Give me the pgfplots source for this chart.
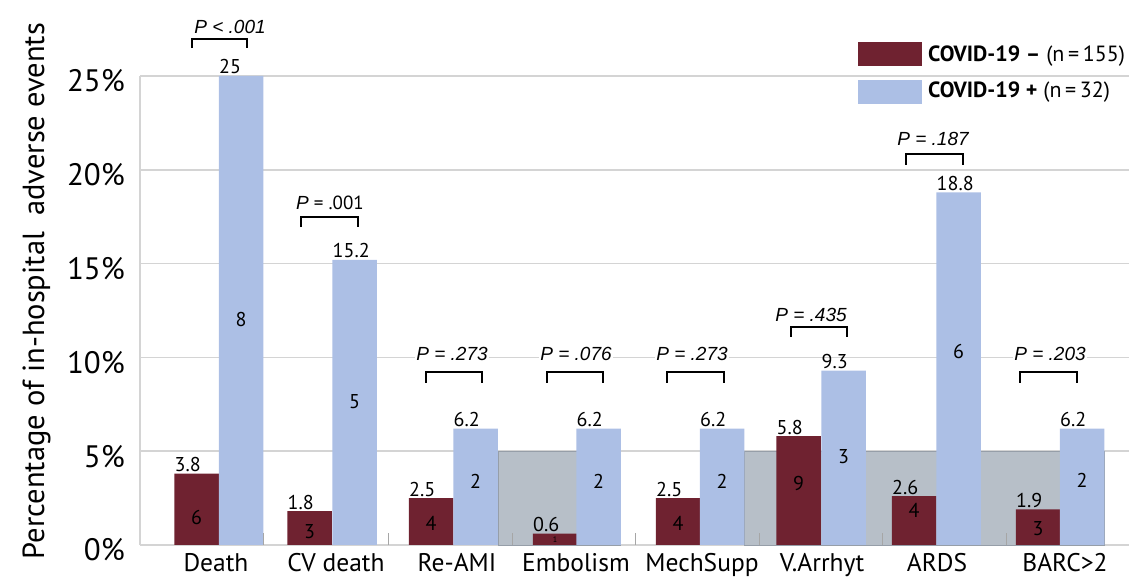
\documentclass[border=0pt]{standalone}
\usepackage{fontspec}
\setmainfont{PT Sans}
\newfontfamily\arial{Liberation Sans}
\usepackage{pgfplots}
\pgfplotsset{compat=1.18}

\definecolor{covneg}{RGB}{111,34,48}
\definecolor{covpos}{RGB}{172,191,229}
\definecolor{band}{RGB}{183,191,200}
\definecolor{bandedge}{RGB}{150,158,168}
\definecolor{gridc}{RGB}{212,212,212}

% x runs in picture units (1 unit = 1pt), y in percent
\newcommand{\pval}[3]{% x, baseline y, text
  \node[font=\arial\fontsize{19}{19}\selectfont\itshape, fill=white, inner sep=1pt, anchor=base]
    at (axis cs:#1,#2) {#3};}
\newcommand{\brk}[4]{% x1, x2, ytop, ybottom
  \draw[line width=2.2pt] (axis cs:#1,#4) -- (axis cs:#1,#3) -- (axis cs:#2,#3) -- (axis cs:#2,#4);}

\begin{document}
\begin{tikzpicture}
\useasboundingbox (0,0) rectangle (1129pt,577pt);
\begin{axis}[
  at={(140pt,32pt)}, anchor=south west,
  scale only axis, width=990pt, height=469pt,
  xmin=140, xmax=1130, ymin=0, ymax=25,
  clip=false,
  axis x line*=bottom, axis y line*=left,
  axis line style={draw=gridc, line width=1.5pt, -},
  ymajorgrids, grid style={draw=gridc, line width=1.5pt},
  major tick length=0pt,
  ytick={0,5,10,15,20,25},
  yticklabels={0\%,5\%,10\%,15\%,20\%,25\%},
  yticklabel style={font=\fontsize{31}{31}\selectfont, anchor=east, inner sep=0pt, xshift=-15pt, yshift=-5pt},
  xtick={216,336,457,576,702,822,937,1065},
  xticklabels={Death,CV death,Re-AMI,Embolism,MechSupp,V.Arrhyt,ARDS,BARC>2},
  xticklabel style={font=\fontsize{25.5}{25.5}\selectfont, anchor=base, inner sep=0pt, yshift=-27pt},
  /pgf/number format/assume math mode=true,
  every node near coord/.append style={font=\fontsize{20}{20}\selectfont, anchor=base west, inner sep=0pt, xshift=-22pt, yshift=2pt},
]
% grey bands
\addplot[fill=band, draw=bandedge, line width=0.6pt] coordinates {(498,5) (620,5)} \closedcycle;
\addplot[fill=band, draw=bandedge, line width=0.6pt] coordinates {(744,5) (1104,5)} \closedcycle;

% COVID-19 - (n = 155)
\addplot[ybar, bar width=44.5, bar shift=0pt, fill=covneg, draw=none, nodes near coords]
  coordinates {(196.5,3.8) (309.5,1.8) (431,2.5) (555,0.6) (678,2.5) (798.5,5.8) (914,2.6) (1038,1.9)};
% COVID-19 + (n = 32)
\addplot[ybar, bar width=44.5, bar shift=0pt, fill=covpos, draw=none, nodes near coords]
  coordinates {(241,25) (354.5,15.2) (475.5,6.2) (598.5,6.2) (722,6.2) (843.5,9.3) (958.5,18.8) (1082,6.2)};

% category separators
\addplot[ycomb, draw=gray!70, line width=1pt, mark=none]
  coordinates {(263,0.64) (388,0.64) (512,0.64) (635,0.64) (759,0.64) (882,0.64) (1006,0.64)};

% counts inside bars
\begin{scope}[every node/.style={font=\fontsize{20}{20}\selectfont, inner sep=0pt}]
\node at (axis cs:196.5,1.44) {6};
\node at (axis cs:241,12.0) {8};
\node at (axis cs:309.5,0.69) {3};
\node at (axis cs:354.5,7.62) {5};
\node at (axis cs:431,1.17) {4};
\node at (axis cs:475.5,3.41) {2};
\node[font=\fontsize{8}{8}\selectfont] at (axis cs:555,0.27) {1};
\node at (axis cs:598.5,3.41) {2};
\node at (axis cs:678,1.17) {4};
\node at (axis cs:722,3.41) {2};
\node at (axis cs:798.5,3.30) {9};
\node at (axis cs:843.5,4.69) {3};
\node at (axis cs:914,1.87) {4};
\node at (axis cs:958.5,10.3) {6};
\node at (axis cs:1038,0.85) {3};
\node at (axis cs:1082,3.46) {2};
\end{scope}

% P values
\pval{230}{27.29}{P < .001}
\brk{192}{247}{26.97}{26.49}
\node[font=\fontsize{19}{19}\selectfont, fill=white, inner sep=1pt, anchor=base]
  at (axis cs:330,17.86) {{\arial\itshape P} = .001};
\brk{301}{358}{17.48}{16.95}
\pval{452}{9.86}{P = .273}
\brk{426}{482}{9.22}{8.64}
\pval{576}{9.86}{P = .076}
\brk{547}{603}{9.22}{8.64}
\pval{692}{9.86}{P = .273}
\brk{667}{724}{9.22}{8.64}
\pval{811}{11.94}{P = .435}
\brk{791}{847}{11.62}{11.09}
\pval{933}{21.27}{P = .187}
\brk{906}{963}{20.84}{20.26}
\pval{1050}{9.86}{P = .203}
\brk{1020}{1077}{9.22}{8.64}
\end{axis}

% y label
\node[rotate=90, anchor=base, font=\fontsize{30.5}{30.5}\selectfont] at (44pt,286pt)
  {Percentage of in-hospital\ \ adverse events};

% legend
\fill[covneg] (858pt,511pt) rectangle (922pt,535pt);
\fill[covpos] (858pt,473pt) rectangle (922pt,497pt);
\node[anchor=base west, inner sep=0pt, font=\fontsize{22}{22}\selectfont] at (928pt,515pt)
  {{\bfseries COVID-19 –} (n\,=\,155)};
\node[anchor=base west, inner sep=0pt, font=\fontsize{22}{22}\selectfont] at (928pt,479pt)
  {{\bfseries COVID-19 +} (n\,=\,32)};
\end{tikzpicture}
\end{document}
